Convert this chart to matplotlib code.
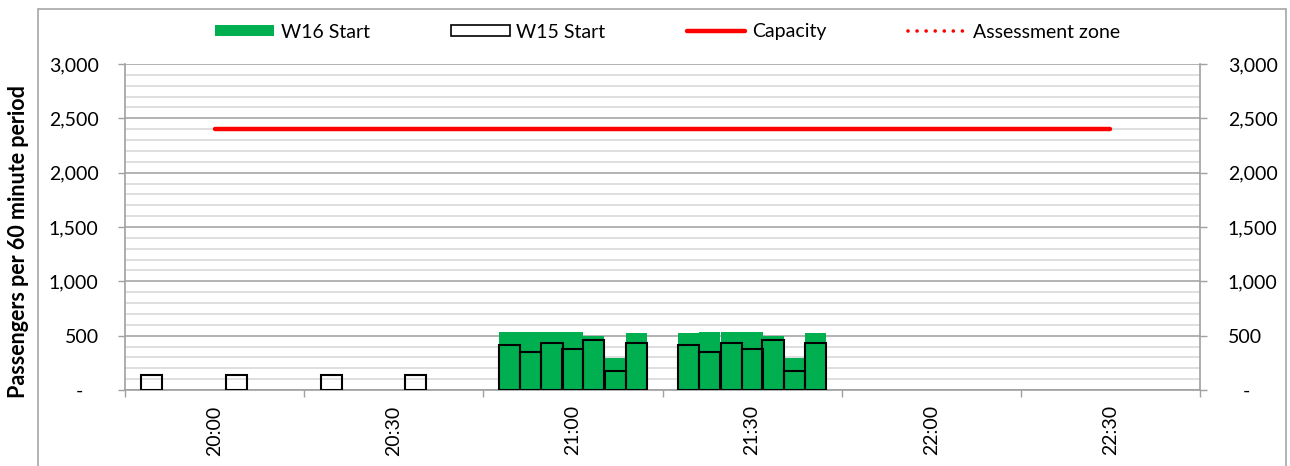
import numpy as np
import matplotlib
matplotlib.use('Agg')
import matplotlib.pyplot as plt
from matplotlib.patches import Patch, Rectangle
from matplotlib.lines import Line2D
from matplotlib.ticker import FixedLocator, FuncFormatter

# times are minutes after 20:00
w16_times = [49.4, 52.9, 56.5, 60.0, 63.5, 67.1, 70.6,
             79.4, 82.9, 86.5, 90.0, 93.5, 97.1, 100.6]
w16_values = [530, 537, 531, 531, 500, 293, 526,
              528, 534, 530, 530, 498, 293, 528]

w15_times = [-10.5, 3.6, 19.5, 33.6,
             49.4, 52.9, 56.5, 60.0, 63.5, 67.1, 70.6,
             79.4, 82.9, 86.5, 90.0, 93.5, 97.1, 100.6]
w15_values = [140, 140, 140, 140,
              415, 348, 436, 381, 461, 177, 434,
              415, 348, 436, 381, 461, 177, 436]

capacity_times = [0, 150]
capacity_values = [2400, 2400]

time_labels = ['20:00', '20:30', '21:00', '21:30', '22:00', '22:30']
label_positions = [0, 30, 60, 90, 120, 150]
boundary_positions = [-15, 15, 45, 75, 105, 135, 165]

green = '#00B050'
grid_major = '#A6A6A6'
grid_minor = '#D9D9D9'
axis_grey = '#A0A0A0'

plt.rcParams['font.family'] = ['Lato', 'DejaVu Sans']


def ytick_fmt(v, pos):
    if v == 0:
        return '-   '
    return f'{int(v):,}'


def ytick_fmt_right(v, pos):
    if v == 0:
        return '   -'
    return f'{int(v):,}'


def main():
    fig = plt.figure(figsize=(12.9, 4.66), dpi=100)
    ax = fig.add_axes([125 / 1290, 1 - 390 / 466, 1075 / 1290, 326 / 466])

    bar_w = 3.53
    ax.bar(w16_times, w16_values, width=bar_w, color=green, linewidth=0, zorder=2)
    ax.bar(w15_times, w15_values, width=bar_w, facecolor='none',
           edgecolor='black', linewidth=1.5, zorder=3)
    ax.plot(capacity_times, capacity_values, color='#FF0000', lw=3.2,
            solid_capstyle='round', zorder=4)

    ax.set_xlim(-15, 165)
    ax.set_ylim(0, 3000)

    # y grid
    ax.yaxis.set_major_locator(FixedLocator(np.arange(0, 3001, 500)))
    ax.yaxis.set_minor_locator(FixedLocator(np.arange(0, 3001, 100)))
    ax.grid(True, which='minor', axis='y', color=grid_minor, lw=1.2, zorder=0)
    ax.grid(True, which='major', axis='y', color=grid_major, lw=1.2, zorder=0)
    ax.set_axisbelow(True)
    ax.yaxis.set_major_formatter(FuncFormatter(ytick_fmt))
    ax.tick_params(axis='y', which='major', length=5, width=1, color=axis_grey,
                   labelsize=14, pad=14)
    ax.tick_params(axis='y', which='minor', length=0)

    # x axis: ticks between periods, labels at hour / half hour
    ax.xaxis.set_major_locator(FixedLocator(boundary_positions))
    ax.xaxis.set_major_formatter(FuncFormatter(lambda v, p: ''))
    ax.set_xticks(label_positions, minor=True)
    ax.set_xticklabels(time_labels, minor=True, rotation=90)
    ax.tick_params(axis='x', which='major', length=5, width=1, color=axis_grey)
    ax.tick_params(axis='x', which='minor', length=0, labelsize=14, pad=11)

    for side in ['top', 'right']:
        ax.spines[side].set_visible(False)
    for side in ['left', 'bottom']:
        ax.spines[side].set_color(axis_grey)
        ax.spines[side].set_linewidth(1.2)

    ax.set_ylabel('Passengers per 60 minute period', fontsize=15.5, fontweight='bold')
    ax.yaxis.set_label_coords(-96 / 1075, 1 - (242 - 64) / 326)

    # right axis
    ax2 = ax.twinx()
    ax2.set_ylim(0, 3000)
    ax2.yaxis.set_major_locator(FixedLocator(np.arange(0, 3001, 500)))
    ax2.yaxis.set_major_formatter(FuncFormatter(ytick_fmt_right))
    ax2.tick_params(axis='y', length=5, width=1, color=axis_grey, labelsize=14, pad=15)
    for side in ['top', 'left', 'bottom']:
        ax2.spines[side].set_visible(False)
    ax2.spines['right'].set_color(axis_grey)
    ax2.spines['right'].set_linewidth(1.2)

    # legend
    handles = [
        Patch(facecolor=green, edgecolor='none'),
        Patch(facecolor='white', edgecolor='black', linewidth=1.2),
        Line2D([], [], color='#FF0000', lw=3.2, solid_capstyle='round'),
        Line2D([], [], color='#FF0000', lw=2.6, linestyle=(0, (0.01, 2.5)),
               dash_capstyle='round'),
    ]
    labels = ['W16 Start', 'W15 Start', 'Capacity', 'Assessment zone']
    fig.legend(handles, labels, loc='center', ncol=4,
               bbox_to_anchor=(668 / 1290, 1 - 32 / 466), frameon=False,
               fontsize=14, handlelength=3.0, handleheight=0.55,
               handletextpad=0.35, columnspacing=4.2)

    # outer chart frame
    fig.add_artist(Rectangle((38 / 1290, -0.2), (1286 - 38) / 1290, 1.2 - 9 / 466,
                             transform=fig.transFigure, fill=False,
                             edgecolor='#A6A6A6', linewidth=1.2))

    plt.savefig('out.png', dpi=100)
    plt.close()


if __name__ == "__main__":
    main()
